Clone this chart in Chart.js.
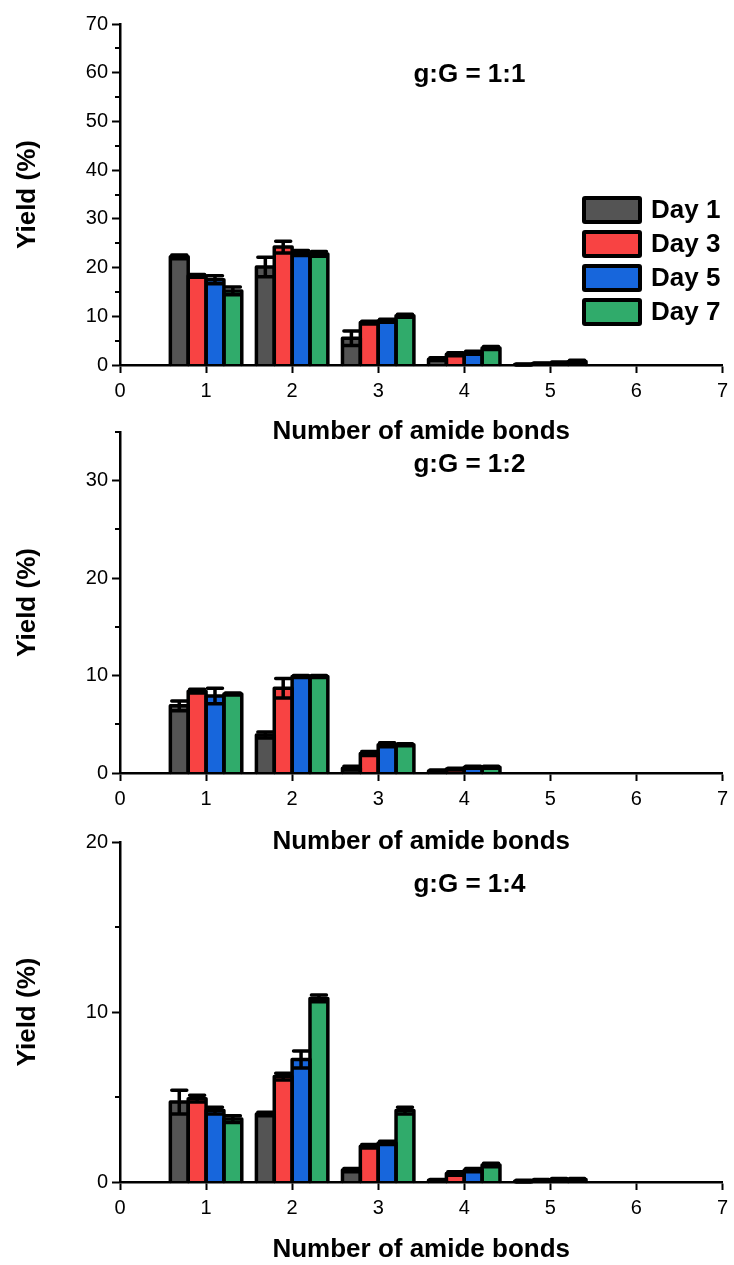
<!DOCTYPE html>
<html>
<head>
<meta charset="utf-8">
<script src="https://cdn.jsdelivr.net/npm/chart.js@4"></script>
<style>
  html, body { margin: 0; padding: 0; background: #fff; }
  #wrap { position: relative; width: 734px; height: 1265px; overflow: hidden; }
  canvas { position: absolute; left: 0; }
</style>
</head>
<body>
<div id="wrap">
  <canvas id="c1" style="top:0px"></canvas>
  <canvas id="c2" style="top:410px"></canvas>
  <canvas id="c3" style="top:820px"></canvas>
</div>
<script>
/* ── data ── */
const dayLabels = ['Day 1', 'Day 3', 'Day 5', 'Day 7'];
const dayColors = ['#545454', '#f84343', '#1766dc', '#30ab6b'];

// g:G = 1:1
const bonds11 = [1, 2, 3, 4, 5];
const yield11 = [
  [22.2, 20.1, 5.5, 1.2, 0.1],   // Day 1
  [18.3, 24.2, 8.7, 2.2, 0.3],   // Day 3
  [17.5, 23.0, 9.1, 2.5, 0.4],   // Day 5
  [15.2, 22.8, 10.1, 3.5, 0.7]   // Day 7
];
const err11 = [
  [0.4, 2.0, 1.5, 0.3, 0.1],
  [0.3, 1.2, 0.3, 0.3, 0.1],
  [0.8, 0.5, 0.3, 0.3, 0.2],
  [0.8, 0.5, 0.3, 0.3, 0.3]
];

// g:G = 1:2
const bonds12 = [1, 2, 3, 4];
const yield12 = [
  [6.9, 3.9, 0.5, 0.2],
  [8.4, 8.7, 2.0, 0.4],
  [7.9, 9.9, 2.9, 0.6],
  [8.1, 9.9, 2.9, 0.6]
];
const err12 = [
  [0.5, 0.3, 0.2, 0.1],
  [0.2, 1.0, 0.2, 0.1],
  [0.8, 0.1, 0.2, 0.1],
  [0.1, 0.1, 0.1, 0.1]
];

// g:G = 1:4
const bonds14 = [1, 2, 3, 4, 5];
const yield14 = [
  [4.7, 4.0, 0.7, 0.1, 0.05],
  [4.9, 6.2, 2.1, 0.5, 0.1],
  [4.2, 7.2, 2.3, 0.7, 0.15],
  [3.7, 10.8, 4.2, 1.0, 0.15]
];
const err14 = [
  [0.7, 0.1, 0.1, 0.05, 0.05],
  [0.2, 0.2, 0.1, 0.1, 0.05],
  [0.2, 0.5, 0.1, 0.1, 0.05],
  [0.2, 0.2, 0.2, 0.1, 0.05]
];

const xTicks = [0, 1, 2, 3, 4, 5, 6, 7];

/* ── plugins ── */
const FONT = "'Liberation Sans', Arial, sans-serif";

// thick outlines (shared between neighbours) + error bars with caps
const barDecor = {
  id: 'barDecor',
  afterDatasetsDraw(chart) {
    const ctx = chart.ctx;
    const yScale = chart.scales.y;
    ctx.save();
    ctx.strokeStyle = '#000';
    ctx.lineJoin = 'round';
    ctx.lineCap = 'round';
    // outlines
    ctx.lineWidth = 3.5;
    chart.data.datasets.forEach((ds, di) => {
      chart.getDatasetMeta(di).data.forEach(bar => {
        const l = bar.x - bar.width / 2, r = bar.x + bar.width / 2;
        ctx.beginPath();
        ctx.moveTo(l, bar.base);
        ctx.lineTo(l, bar.y);
        ctx.lineTo(r, bar.y);
        ctx.lineTo(r, bar.base);
        ctx.stroke();
      });
    });
    // error bars
    ctx.lineWidth = 3.5;
    chart.data.datasets.forEach((ds, di) => {
      chart.getDatasetMeta(di).data.forEach((bar, i) => {
        const v = ds.data[i].y;
        const e = ds.errors[i];
        const yTop = yScale.getPixelForValue(v + e);
        const yBot = yScale.getPixelForValue(Math.max(v - e, 0));
        const half = bar.width * 0.42;
        ctx.beginPath();
        ctx.moveTo(bar.x, yTop); ctx.lineTo(bar.x, yBot);
        ctx.moveTo(bar.x - half, yTop); ctx.lineTo(bar.x + half, yTop);
        ctx.moveTo(bar.x - half, yBot); ctx.lineTo(bar.x + half, yBot);
        ctx.stroke();
      });
    });
    ctx.restore();
  }
};

// short minor ticks on the y axis (every 5, unlabeled)
const minorTicks = {
  id: 'minorTicks',
  afterDraw(chart) {
    const y = chart.scales.y;
    const ctx = chart.ctx;
    const left = chart.chartArea.left;
    ctx.save();
    ctx.strokeStyle = '#000';
    ctx.lineWidth = 2;
    for (let v = y.min; v <= y.max; v += 5) {
      if (v % 10 === 0) continue;
      const p = Math.round(y.getPixelForValue(v));
      ctx.beginPath();
      ctx.moveTo(left - 5, p); ctx.lineTo(left, p);
      ctx.stroke();
    }
    ctx.restore();
  }
};

// panel label "g:G = ..."
const panelLabel = {
  id: 'panelLabel',
  afterDraw(chart, args, opts) {
    if (!opts.text) return;
    const { left, top, width, height } = chart.chartArea;
    const ctx = chart.ctx;
    ctx.save();
    ctx.font = `bold 26px ${FONT}`;
    ctx.fillStyle = '#000';
    ctx.textAlign = 'center';
    ctx.textBaseline = 'middle';
    ctx.fillText(opts.text, left + width * opts.fx, top + height * opts.fy);
    ctx.restore();
  }
};

// boxed legend inside the first panel
const dayLegend = {
  id: 'dayLegend',
  afterDraw(chart, args, opts) {
    if (!opts.show) return;
    const ctx = chart.ctx;
    ctx.save();
    chart.data.datasets.forEach((ds, i) => {
      const y = opts.y + i * opts.step;
      ctx.fillStyle = '#000';
      ctx.beginPath();
      ctx.roundRect(opts.x, y, opts.w, opts.h, 3);
      ctx.fill();
      ctx.fillStyle = ds.backgroundColor;
      ctx.fillRect(opts.x + 4, y + 4, opts.w - 8, opts.h - 8);
      ctx.fillStyle = '#000';
      ctx.font = `bold 26px ${FONT}`;
      ctx.textBaseline = 'middle';
      ctx.textAlign = 'left';
      ctx.fillText(ds.label, opts.x + opts.w + 9, y + opts.h / 2 + 1);
    });
    ctx.restore();
  }
};

/* ── chart builder ── */
function makePanel(canvasId, cfg) {
  const canvas = document.getElementById(canvasId);
  canvas.width = 734;
  canvas.height = cfg.canvasH;

  const datasets = dayLabels.map((lab, d) => ({
    label: lab,
    data: cfg.bonds.map((b, i) => ({ x: b, y: cfg.values[d][i] })),
    errors: cfg.errors[d],
    backgroundColor: dayColors[d],
    borderWidth: 0,
    categoryPercentage: 0.83,
    barPercentage: 1.0
  }));

  return new Chart(canvas, {
    type: 'bar',
    data: { datasets },
    plugins: [barDecor, minorTicks, panelLabel, dayLegend],
    options: {
      responsive: false,
      animation: false,
      layout: { padding: { left: 0, right: 7, top: cfg.padTop, bottom: 0 } },
      plugins: {
        legend: { display: false },
        tooltip: { enabled: false },
        panelLabel: { text: cfg.label, fx: 0.58, fy: cfg.labelFy },
        dayLegend: cfg.legend || { show: false }
      },
      scales: {
        x: {
          type: 'linear',
          min: 0, max: 7,
          offset: false,
          afterBuildTicks: s => { s.ticks = xTicks.map(v => ({ value: v })); },
          ticks: { color: '#000', font: { family: FONT, size: 20 }, padding: 6, maxRotation: 0, autoSkip: false },
          grid: { display: true, drawOnChartArea: false, offset: false, tickLength: 8, tickWidth: 2, tickColor: '#000', color: '#000' },
          border: { display: true, color: '#000', width: 2.5, z: 1 },
          title: {
            display: true, text: 'Number of amide bonds', color: '#000',
            font: { family: FONT, size: 26, weight: 'bold', lineHeight: 1 },
            padding: { top: 0, bottom: cfg.titlePadB }
          },
          afterFit: s => { s.height = cfg.xAxisH; }
        },
        y: {
          min: 0, max: cfg.yMax,
          ticks: {
            stepSize: 5, color: '#000', padding: 4,
            font: { family: FONT, size: 20 },
            callback: v => (v % 10 === 0 ? String(v) : '')
          },
          grid: {
            display: true, drawOnChartArea: false, tickLength: 8, tickWidth: 2,
            tickColor: c => (c.tick && c.tick.value % 10 === 0 ? '#000' : 'rgba(0,0,0,0)'),
            color: '#000'
          },
          border: { display: true, color: '#000', width: 2.5 },
          title: {
            display: true, text: 'Yield (%)', color: '#000',
            font: { family: FONT, size: 26, weight: 'bold', lineHeight: 1 },
            padding: { top: 15, bottom: 0 }
          },
          afterFit: s => { s.width = 120; }
        }
      }
    }
  });
}

makePanel('c1', {
  canvasH: 450, padTop: 24, xAxisH: 85, titlePadB: 5, yMax: 70,
  bonds: bonds11, values: yield11, errors: err11,
  label: 'g:G = 1:1', labelFy: 0.15,
  legend: { show: true, x: 582, y: 196, w: 60, h: 28, step: 34 }
});

makePanel('c2', {
  canvasH: 450, padTop: 22, xAxisH: 87, titlePadB: 5, yMax: 35,
  bonds: bonds12, values: yield12, errors: err12,
  label: 'g:G = 1:2', labelFy: 0.097
});

makePanel('c3', {
  canvasH: 445, padTop: 22, xAxisH: 83, titlePadB: 2, yMax: 20,
  bonds: bonds14, values: yield14, errors: err14,
  label: 'g:G = 1:4', labelFy: 0.126
});
</script>
</body>
</html>
